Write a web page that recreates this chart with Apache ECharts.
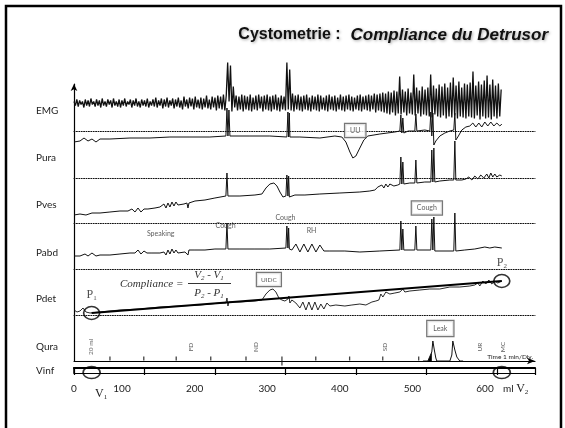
<!DOCTYPE html>
<html>
<head>
<meta charset="utf-8">
<title>Cystometrie : Compliance du Detrusor</title>
<script src="https://cdn.jsdelivr.net/npm/echarts@6.0.0/dist/echarts.min.js"></script>
<style>
html, body { margin: 0; padding: 0; background: #fff; }
#chart { width: 565px; height: 428px; }
</style>
</head>
<body>
<div id="chart"></div>
<script>
// x of every trace = infused volume (ml), y = height above the channel baseline
const X_MAX = 654;
const CHANNELS = ['EMG', 'Pura', 'Pves', 'Pabd', 'Pdet', 'Qura', 'Vinf'];

// EMG sampled every EMG_STEP ml
const EMG_STEP = 2;
const EMG = [
  30,26,32,25,31,27,30,24,32,26,
  31,25,33,27,30,25,32,26,31,24,
  33,26,30,25,32,27,31,24,33,26,
  30,25,32,24,31,26,33,25,30,27,
  32,24,31,26,33,25,30,24,32,26,
  31,25,33,24,30,26,32,25,34,24,
  31,26,33,23,32,25,34,24,31,26,
  33,23,32,25,34,24,31,22,35,25,
  32,23,34,25,33,22,35,24,32,23,
  34,22,33,24,36,23,32,22,35,24,
  34,21,36,23,35,22,37,21,36,69,
  30,66,20,45,24,36,21,35,22,37,
  20,36,22,35,21,37,20,34,22,36,
  21,37,23,35,20,36,22,37,21,35,
  20,36,22,37,21,34,20,36,22,35,
  21,69,22,62,21,38,20,36,22,37,
  21,35,20,36,22,37,21,34,20,36,
  22,35,21,37,20,36,22,34,21,36,
  20,37,22,35,21,36,20,34,22,37,
  21,35,20,36,22,37,21,35,20,34,
  22,36,21,37,20,35,22,36,21,37,
  20,36,22,38,19,37,21,38,20,39,
  19,38,18,40,17,39,19,41,16,40,
  18,55,17,42,19,40,16,43,18,39,
  17,57,16,44,18,41,15,45,17,42,
  16,44,15,57,14,46,17,43,15,47,
  14,45,16,48,13,44,15,49,14,54,
  16,46,13,50,15,44,14,48,13,47,
  15,49,14,60,13,46,16,50,12,47,
  15,51,13,56,14,47,12,52,15,46,
  13,48,15,42
];

const PURA = [
  [0,36],[8.5,37],[14.2,40],[19.9,37],[25.5,39],[31.2,36],[36.9,39],[51,39],[79.4,40],[107.8,40],
  [136.1,41],[164.5,41],[192.8,41],[215.5,42],[217,70],[218.4,42],[219.8,68],[221.2,42],[249.6,42],[277.9,42],
  [302,41],[303.5,66],[304.5,41],[305.5,65],[306.3,41],[320.5,41],[348.8,40],[370.1,42],[380,41],
  [385.7,36],[391.4,26],[395.6,20],[399.9,22],[405.5,30],[411.2,38],[416.9,42],[433.9,44],[455.2,46],[462.3,47],
  [463.7,63],[465.1,45],[466.5,60],[467.9,45],[474.1,47],[483.5,47],[485,64],[486.4,47],[497.7,48],[504.8,47],
  [506.2,66],[507.6,42],[509.1,65],[510.5,33],[513.3,37],[519,42],[526.1,45],[533.2,47],[538.8,48],[540.3,65],
  [541.7,38],[544.5,41],[550.2,48],[555.9,51],[561.5,52],[565.8,55],[570,51],[574.3,55],[578.5,51],[582.8,56],
  [587,52],[591.3,56],[595.6,52],[599.8,55],[604.1,52],[606.9,54]
];

const PVES = [
  [0,8.5],[8.5,9.5],[17,8.5],[25.5,10.5],[36.9,10.5],[51,11.5],[65.2,12.5],[76.6,12.5],[82.2,14.5],[86.5,11.5],
  [90.8,15.5],[95,11.5],[99.3,14.5],[104.9,14.5],[114.9,15.5],[121.9,16.5],[127.6,19.5],[130.5,15.5],[133.3,20.5],[136.1,16.5],
  [139,21.5],[141.8,17.5],[144.6,21.5],[147.5,18.5],[150.3,20.5],[156,19.5],[160.2,20.5],[161.7,15.5],[163.1,20.5],[171.6,22.5],
  [185.8,23.5],[199.9,25.5],[215.5,27.5],[217,50.5],[218.4,27.5],[235.4,27.5],[256.7,28.5],[266.6,29.5],[272.3,35.5],[277.9,39.5],
  [283.6,40.5],[287.9,37.5],[292.1,31.5],[296.4,26.5],[300.6,27.5],[302,48.5],[303.5,27.5],[304.5,47.5],[305.5,26.5],[313.4,28.5],
  [327.6,28.5],[348.8,29.5],[377.2,30.5],[405.5,31.5],[419.7,32.5],[426.8,33.5],[431.1,36.5],[433.9,34.5],[436.7,38.5],[439.6,35.5],
  [442.4,39.5],[445.3,36.5],[448.1,39.5],[453.8,37.5],[459.4,38.5],[462.3,39.5],[463.7,66.5],[465.1,39.5],[466.5,61.5],[467.9,39.5],
  [476.4,40.5],[483.5,40.5],[485,63.5],[486.4,40.5],[497.7,41.5],[506.2,41.5],[507.6,73.5],[509.1,41.5],[510.5,75.5],[511.9,41.5],
  [519,42.5],[533.2,43.5],[538.8,43.5],[540.3,82.5],[541.7,43.5],[550.2,43.5],[555.9,44.5],[560.1,46.5],[564.4,43.5],[568.6,47.5],
  [572.9,44.5],[577.1,48.5],[581.4,45.5],[585.6,49.5],[588.5,45.5],[591.3,50.5],[594.1,46.5],[597,49.5],[599.8,46.5],[604.1,48.5],
  [606.9,47.5]
];

const PABD = [
  [0,13.5],[8.5,13.5],[15.6,15.5],[19.9,13.5],[25.5,16.5],[31.2,13.5],[36.9,14.5],[51,14.5],[65.2,15.5],[79.4,16.5],
  [86.5,16.5],[90.8,19.5],[95,15.5],[99.3,18.5],[103.5,16.5],[110.6,16.5],[121.9,16.5],[127.6,17.5],[130.5,14.5],[133.3,19.5],
  [136.1,15.5],[139,20.5],[141.8,16.5],[144.6,19.5],[147.5,16.5],[150.3,18.5],[157.4,17.5],[160.2,18.5],[161.7,14.5],[163.1,19.5],
  [171.6,19.5],[185.8,19.5],[199.9,20.5],[215.5,20.5],[217,46.5],[218.4,20.5],[235.4,20.5],[256.7,20.5],[277.9,20.5],[300.6,21.5],
  [302,43.5],[303.5,21.5],[304.5,41.5],[305.5,20.5],[309.1,19.5],[314.8,25.5],[320.5,17.5],[326.1,25.5],[331.8,17.5],[337.5,25.5],
  [343.2,17.5],[348.8,24.5],[354.5,18.5],[363,18.5],[384.3,18.5],[405.5,17.5],[433.9,18.5],[462.3,19.5],[463.7,48.5],[465.1,19.5],
  [466.5,40.5],[467.9,19.5],[483.5,19.5],[485,43.5],[486.4,19.5],[506.2,19.5],[507.6,50.5],[509.1,19.5],[510.5,52.5],[511.9,18.5],
  [538.8,18.5],[540.3,56.5],[541.7,18.5],[554.4,19.5],[568.6,20.5],[582.8,22.5],[589.9,21.5],[597,22.5],[606.9,21.5]
];

const PDET = [
  [0,5.5],[4.3,3.5],[8.5,4.5],[12.8,7.5],[17,3.5],[22.7,2.5],[36.9,3.5],[65.2,5.5],[93.6,6.5],[121.9,8.5],
  [150.3,9.5],[178.7,10.5],[207,12.5],[215.5,12.5],[217,17.5],[218.4,9.5],[219.8,13.5],[235.4,13.5],[256.7,14.5],[266.6,15.5],
  [272.3,21.5],[277.9,25.5],[282.2,26.5],[286.4,23.5],[290.7,17.5],[294.9,15.5],[299.2,14.5],[303.5,16.5],[304.9,19.5],[306.3,12.5],
  [309.1,15.5],[314.8,12.5],[320.5,7.5],[324.7,13.5],[329,5.5],[333.2,13.5],[337.5,5.5],[341.7,13.5],[346,5.5],[350.2,11.5],
  [354.5,6.5],[358.8,12.5],[363,9.5],[371.5,10.5],[384.3,9.5],[394.2,10.5],[405.5,11.5],[414.1,10.5],[422.6,13.5],[428.2,14.5],
  [432.5,15.5],[435.3,21.5],[438.2,18.5],[442.4,23.5],[448.1,21.5],[455.2,22.5],[462.3,23.5],[466.5,26.5],[469.4,23.5],[476.4,24.5],
  [490.6,25.5],[504.8,26.5],[519,26.5],[533.2,28.5],[547.3,28.5],[561.5,29.5],[568.6,30.5],[572.9,32.5],[575.7,29.5],[580,34.5],
  [584.2,31.5],[588.5,35.5],[592.7,31.5],[597,34.5],[601.2,32.5],[606.9,34.5]
];

// compliance line P1 -> P2
const COMPLIANCE_V = [25, 606.9];
const COMPLIANCE_P = [2.5, 34.5];

// Qura: flow (leaks), minute marks and event markers
const QURA = [
  [495,0],[502,0],[504.8,1],[507.6,9],[509.1,20],[511.2,11],[513.3,3],[514.7,0],
  [533.2,0],[536,6],[537.4,20],[540.3,11],[543.1,4],[547.3,0],[552,0]
];
const QURA_MARKS = [51, 99, 145, 194, 244, 295, 343, 391, 438, 489];
const EVENTS = ['20 ml', 'FD', 'ND', 'SD', 'UR', 'MC'];
const EVENT_VOLUMES = [24, 166, 258, 441, 576, 608];

const VOLUME_LABELS = [100, 200, 300, 400, 500, 600];

// ---- layout ----
const LEFT = 74, WIDTH = 461, BAND = 90;
const FLOORS = [131.5, 178, 223.5, 269.5, 315.5];
const SANS = 'Lato';
const SERIF = 'Liberation Serif';

const grid = FLOORS.map(f => ({ left: LEFT, width: WIDTH, top: f - BAND, height: BAND }));
grid.push({ left: LEFT, width: WIDTH, top: 84, height: 277 });   // 5: frame + Qura
grid.push({ left: LEFT, width: WIDTH, top: 368, height: 5 });    // 6: Vinf bar

const hidden = { axisTick: { show: false }, axisLabel: { show: false }, splitLine: { show: false } };

const xAxis = FLOORS.map((f, i) => Object.assign({
  gridIndex: i, type: 'value', min: 0, max: X_MAX,
  axisLine: { onZero: false, lineStyle: { color: '#111', width: 1, type: [1, 1.4] } }
}, hidden));
xAxis.push(Object.assign({
  gridIndex: 5, type: 'value', min: 0, max: X_MAX,
  axisLine: { onZero: false, symbol: ['none', 'arrow'], symbolSize: [5, 8], lineStyle: { color: '#000', width: 1.2 } }
}, hidden));
xAxis.push({
  gridIndex: 6, type: 'value', position: 'top', min: 0, max: X_MAX, interval: 100,
  axisLine: { onZero: false, lineStyle: { color: '#000', width: 2.2 } },
  axisTick: { inside: true, length: 7, lineStyle: { color: '#000', width: 1.2 } },
  axisLabel: { show: false }, splitLine: { show: false }
});
xAxis.push(Object.assign({
  gridIndex: 6, type: 'value', position: 'bottom', min: 0, max: X_MAX,
  axisLine: { onZero: false, lineStyle: { color: '#000', width: 1 } }
}, hidden));
// printed volume labels sit a little left of the bar ticks in the original
xAxis.push({
  gridIndex: 6, type: 'value', position: 'bottom', min: 33.9, max: 668.9,
  axisLine: { show: false }, axisTick: { show: false }, splitLine: { show: false },
  axisLabel: { customValues: VOLUME_LABELS, margin: 11, fontFamily: SANS, fontSize: 10, color: '#222' }
});

const yAxis = FLOORS.map((f, i) => ({ gridIndex: i, type: 'value', min: 0, max: BAND, show: false }));
yAxis.push(Object.assign({
  gridIndex: 5, type: 'value', min: 0, max: 277,
  axisLine: { show: true, onZero: false, symbol: ['none', 'arrow'], symbolSize: [5, 7], lineStyle: { color: '#000', width: 1.2 } }
}, hidden));
yAxis.push(Object.assign({
  gridIndex: 6, type: 'value', min: 0, max: 5,
  axisLine: { show: true, onZero: false, lineStyle: { color: '#000', width: 1.5 } }
}, hidden));

function trace(name, idx, data, width) {
  return {
    name: name, type: 'line', xAxisIndex: idx, yAxisIndex: idx, data: data,
    symbol: 'none', silent: true, z: 3,
    lineStyle: { color: '#111', width: width }
  };
}

function notes(idx, items, boxed, extra) {
  const label = Object.assign({
    show: true, position: 'inside', formatter: '{b}',
    fontFamily: SANS, fontSize: 7, color: '#333'
  }, boxed ? { backgroundColor: '#fff', borderColor: '#555', borderWidth: 1.2, padding: [3, 5] } : {}, extra || {});
  return {
    type: 'scatter', xAxisIndex: idx, yAxisIndex: idx, symbolSize: 1, silent: true, z: 6,
    itemStyle: { color: 'rgba(0,0,0,0)' }, data: items, label: label
  };
}

const ring = { color: 'rgba(0,0,0,0)', borderColor: '#000', borderWidth: 1.5 };

const series = [
  trace('EMG', 0, EMG.map((v, i) => [i * EMG_STEP, v]), 1.3),
  trace('Pura', 1, PURA, 1),
  trace('Pves', 2, PVES, 1),
  trace('Pabd', 3, PABD, 1),
  trace('Pdet', 4, PDET, 0.9),
  {
    name: 'Compliance', type: 'line', xAxisIndex: 4, yAxisIndex: 4, symbol: 'none', silent: true, z: 4,
    data: COMPLIANCE_V.map((v, i) => [v, COMPLIANCE_P[i]]),
    lineStyle: { color: '#000', width: 2 }
  },
  {
    type: 'scatter', xAxisIndex: 4, yAxisIndex: 4, symbol: 'circle', symbolSize: [16, 13], silent: true, z: 5,
    itemStyle: ring,
    data: COMPLIANCE_V.map((v, i) => [v, COMPLIANCE_P[i]]),
    label: {
      show: true, position: 'top', distance: 4,
      formatter: p => '{p|P}{s|' + (p.dataIndex + 1) + '}',
      rich: { p: { fontFamily: SERIF, fontSize: 12, color: '#222' }, s: { fontFamily: SERIF, fontSize: 7, color: '#222', padding: [7, 0, 0, 0] } }
    }
  },
  notes(1, [{ name: 'UU', value: [399, 47.5] }], true),
  notes(3, [
    { name: 'Speaking', value: [123, 36] },
    { name: 'Cough', value: [215, 43.5] },
    { name: 'Cough', value: [300, 51.5] },
    { name: 'RH', value: [337, 38.5] }
  ], false),
  notes(3, [{ name: 'Cough', value: [500.6, 61.5] }], true),
  notes(4, [{ name: 'UIDC', value: [276.5, 36] }], true, { fontSize: 6.5, padding: [3, 4] }),
  trace('Qura', 5, QURA, 1),
  {
    type: 'line', xAxisIndex: 5, yAxisIndex: 5, symbol: 'none', silent: true, z: 3,
    data: QURA.slice(1, 4), lineStyle: { width: 0 }, areaStyle: { color: '#000', opacity: 1 }
  },
  {
    type: 'scatter', xAxisIndex: 5, yAxisIndex: 5, symbol: 'rect', silent: true, z: 3,
    itemStyle: { color: '#111' },
    data: QURA_MARKS.map(v => ({ value: [v, v === 295 ? 0 : 2.5], symbolSize: v === 295 ? [1.3, 9] : [1.3, 4] }))
  },
  notes(5, EVENTS.map((n, i) => ({ name: n, value: [EVENT_VOLUMES[i], 14] })), false,
    { rotate: 90, fontSize: 6.5, color: '#333' }),
  notes(5, [{ name: 'Leak', value: [519.7, 32.5] }], true, { padding: [4, 6] }),
  {
    type: 'scatter', xAxisIndex: 6, yAxisIndex: 6, symbol: 'circle', symbolSize: [17, 12], silent: true, z: 5,
    itemStyle: ring, data: COMPLIANCE_V.map(v => [v, 0.5])
  }
];

const labelY = [111, 158, 205, 253, 299, 347, 371];
const graphic = [
  { type: 'rect', shape: { x: 6, y: 6, width: 555, height: 450 }, style: { fill: 'none', stroke: '#000', lineWidth: 2.5 }, silent: true },
  { type: 'text', x: 74, y: 389, style: { text: '0', font: '10px ' + SANS, fill: '#222', align: 'center', verticalAlign: 'middle' } },
  { type: 'text', x: 95, y: 394, style: {
      text: '{v|V}{s|1}', verticalAlign: 'middle',
      rich: { v: { fontFamily: SERIF, fontSize: 12, fill: '#222' }, s: { fontFamily: SERIF, fontSize: 7, fill: '#222', padding: [7, 0, 0, 0] } } } },
  { type: 'text', x: 503, y: 389, style: {
      text: '{m|ml }{v|V}{s|2}', verticalAlign: 'middle',
      rich: { m: { fontFamily: SANS, fontSize: 10, fill: '#222' }, v: { fontFamily: SERIF, fontSize: 12, fill: '#222' }, s: { fontFamily: SERIF, fontSize: 7, fill: '#222', padding: [7, 0, 0, 0] } } } },
  { type: 'text', x: 533, y: 357, style: { text: 'Time 1 min/Div.', font: '6.5px ' + SANS, fill: '#222', align: 'right', verticalAlign: 'middle' } },
  { type: 'text', x: 120, y: 284, style: { text: 'Compliance =', font: 'italic 11px ' + SERIF, fill: '#333', verticalAlign: 'middle' } },
  { type: 'text', x: 209, y: 275, style: {
      text: '{v|V}{s|2}{v| - V}{s|1}', align: 'center', verticalAlign: 'middle',
      rich: { v: { fontFamily: SERIF, fontStyle: 'italic', fontSize: 11, fill: '#333' }, s: { fontFamily: SERIF, fontStyle: 'italic', fontSize: 7, fill: '#333', padding: [6, 0, 0, 0] } } } },
  { type: 'line', shape: { x1: 188, y1: 283.5, x2: 231, y2: 283.5 }, style: { stroke: '#333', lineWidth: 1 } },
  { type: 'text', x: 209, y: 293, style: {
      text: '{v|P}{s|2}{v| - P}{s|1}', align: 'center', verticalAlign: 'middle',
      rich: { v: { fontFamily: SERIF, fontStyle: 'italic', fontSize: 11, fill: '#333' }, s: { fontFamily: SERIF, fontStyle: 'italic', fontSize: 7, fill: '#333', padding: [6, 0, 0, 0] } } } }
].concat(CHANNELS.map((c, i) => ({
  type: 'text', x: 36, y: labelY[i],
  style: { text: c, font: '10px ' + SANS, fill: '#222', verticalAlign: 'middle' }
})));

const chart = echarts.init(document.getElementById('chart'), null, { renderer: 'canvas' });
chart.setOption({
  animation: false,
  backgroundColor: '#fff',
  title: {
    text: '{a|Cystometrie :}  {b|Compliance du Detrusor}',
    right: 12, top: 21,
    textStyle: {
      rich: {
        a: { fontFamily: 'Liberation Sans', fontWeight: 'bold', fontSize: 16, color: '#111', textShadowColor: 'rgba(0,0,0,0.35)', textShadowBlur: 3, textShadowOffsetX: 1, textShadowOffsetY: 1 },
        b: { fontFamily: 'Liberation Sans', fontWeight: 'bold', fontStyle: 'italic', fontSize: 17, color: '#111', textShadowColor: 'rgba(0,0,0,0.35)', textShadowBlur: 3, textShadowOffsetX: 1, textShadowOffsetY: 1 }
      }
    }
  },
  grid: grid,
  xAxis: xAxis,
  yAxis: yAxis,
  series: series,
  graphic: graphic
});
</script>
</body>
</html>
